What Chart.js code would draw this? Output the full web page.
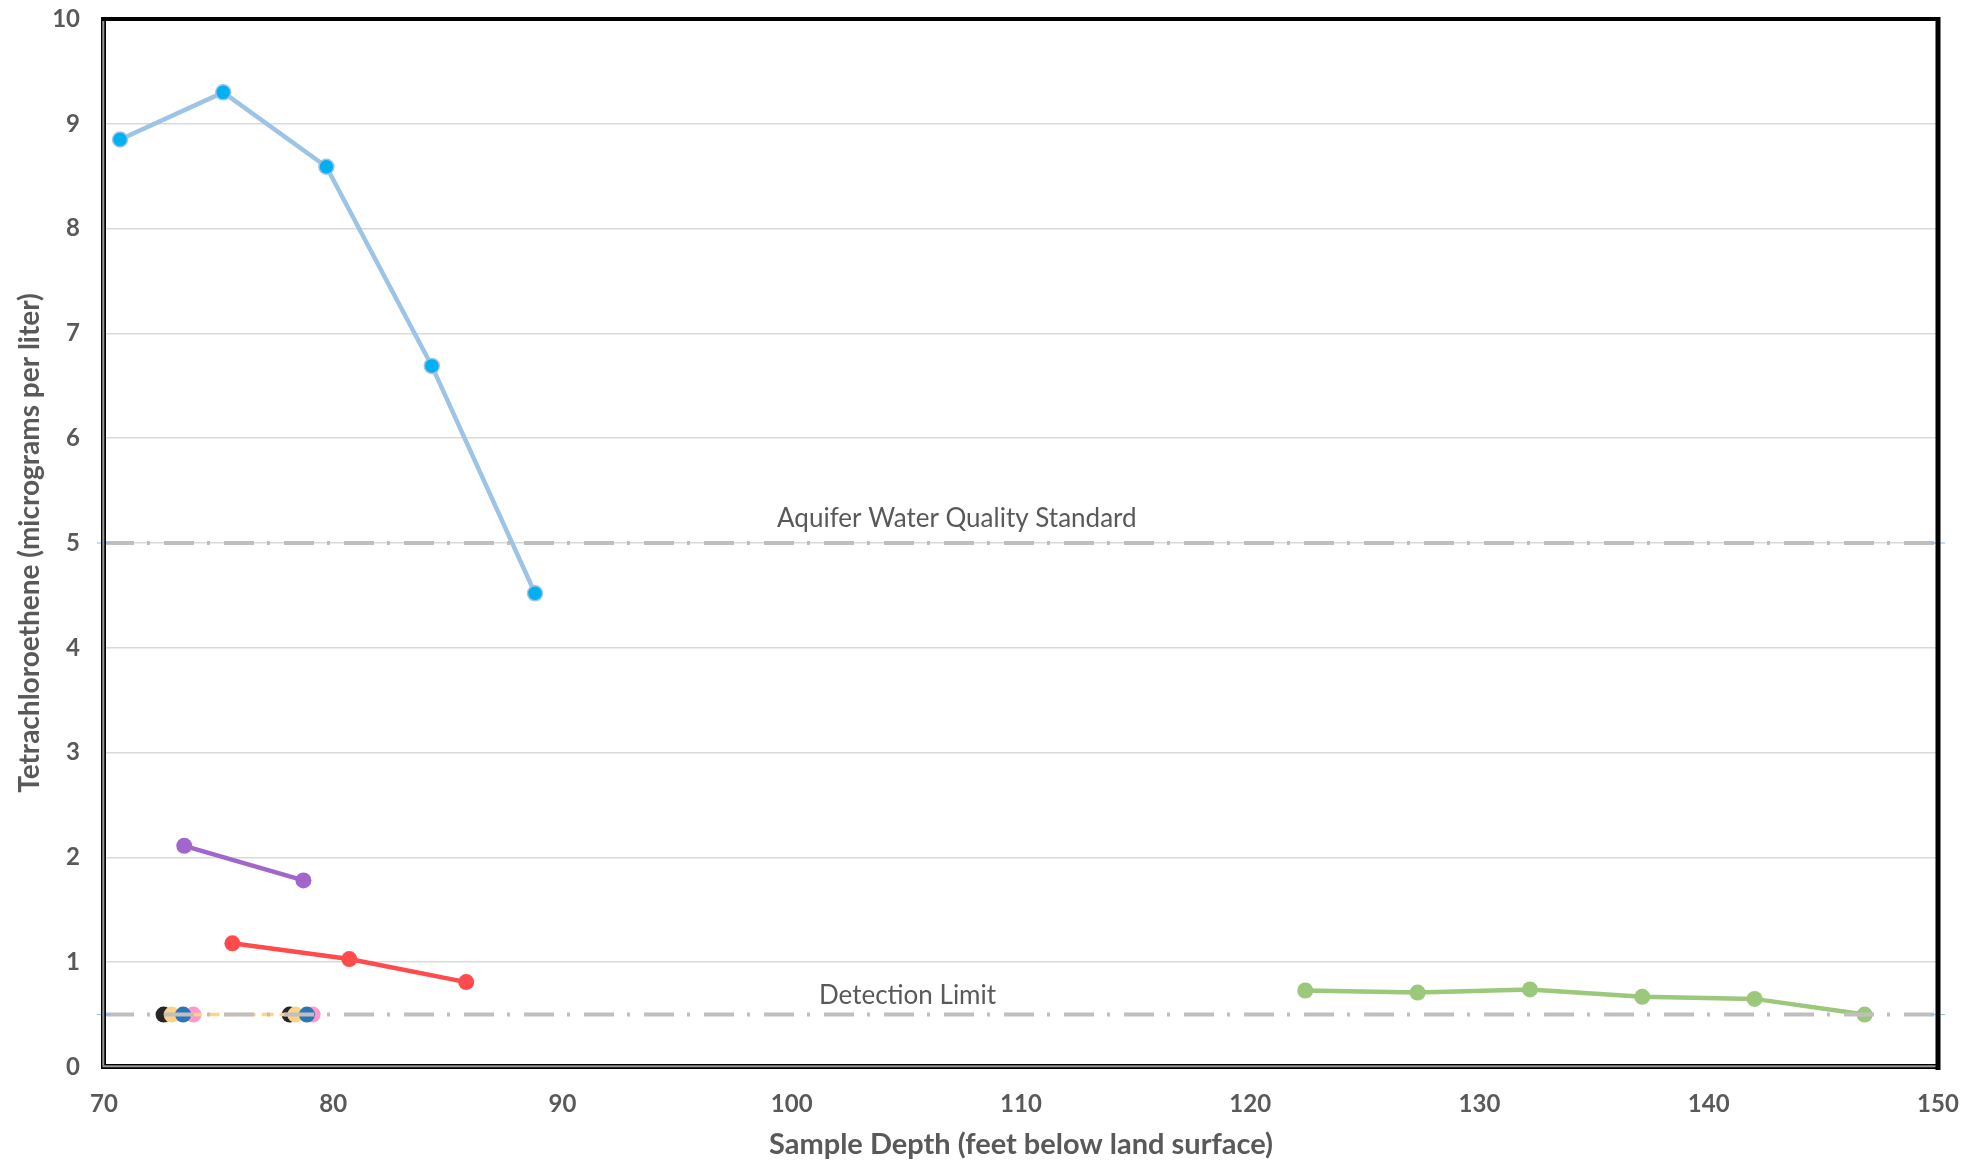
<!DOCTYPE html>
<html>
<head>
<meta charset="utf-8">
<script src="https://cdn.jsdelivr.net/npm/chart.js@4.4.1/dist/chart.umd.min.js"></script>
<style>
  html, body { margin: 0; padding: 0; background: #fff; }
  #wrap { width: 1980px; height: 1168px; }
</style>
</head>
<body>
<div id="wrap"><canvas id="chart" width="1980" height="1168"></canvas></div>
<script>
// tick labels
const xTicks = [70, 80, 90, 100, 110, 120, 130, 140, 150];
const yTicks = [0, 1, 2, 3, 4, 5, 6, 7, 8, 9, 10];

// reference levels (micrograms per liter)
const aquiferStd = 5;
const detectLimit = 0.5;
const refDepths = [70, 150];

// wells: sample depth (ft) and PCE concentration
const depthLtBlue = [70.7, 75.2, 79.7, 84.3, 88.8];
const pceLtBlue = [8.85, 9.30, 8.59, 6.69, 4.52];

const depthPurple = [73.5, 78.7];
const pcePurple = [2.11, 1.78];

const depthRed = [75.6, 80.7, 85.8];
const pceRed = [1.18, 1.03, 0.81];

const depthGreen = [122.4, 127.3, 132.2, 137.1, 142.0, 146.8];
const pceGreen = [0.73, 0.71, 0.74, 0.67, 0.65, 0.50];

const depthBlack = [72.6, 78.1];
const pceBlack = [0.5, 0.5];

const depthYellow = [72.95, 78.35];
const pceYellow = [0.5, 0.5];

const depthBlue = [73.45, 78.85];
const pceBlue = [0.5, 0.5];

const depthPink = [73.9, 79.1];
const pcePink = [0.5, 0.5];

const labelAquifer = 'Aquifer Water Quality Standard';
const labelDetect = 'Detection Limit';

function pts(xs, ys) {
    return xs.map((x, i) => ({ x: x, y: ys[i] }));
}

const textGray = '#595959';

function refLine(level) {
    return {
        data: pts(refDepths, refDepths.map(() => level)),
        showLine: true,
        borderColor: '#BFBFBF',
        borderWidth: 4,
        borderDash: [30, 13, 3, 14],
        borderCapStyle: 'butt',
        pointStyle: 'cross',
        pointRadius: 7,
        pointBorderColor: '#8FB8E6',
        pointBorderWidth: 1,
        clip: false
    };
}

function well(xs, ys, color, opts) {
    return Object.assign({
        data: pts(xs, ys),
        showLine: true,
        borderColor: color,
        borderWidth: 4.5,
        pointRadius: 8,
        pointBackgroundColor: color,
        pointBorderColor: color,
        pointBorderWidth: 0
    }, opts || {});
}

// frame round the plot and labels for the reference lines
const framePlugin = {
    id: 'frame',
    afterDatasetsDraw(chart) {
        const { ctx, chartArea: a, scales: { x, y } } = chart;
        ctx.save();
        ctx.font = '26px Lato';
        ctx.fillStyle = textGray;
        ctx.textAlign = 'center';
        ctx.textBaseline = 'middle';
        ctx.fillText(labelAquifer, x.getPixelForValue(107.2), y.getPixelForValue(aquiferStd) - 24);
        ctx.fillText(labelDetect, x.getPixelForValue(105.05), y.getPixelForValue(detectLimit) - 19);

        // left and bottom: double line
        ctx.fillStyle = '#000';
        ctx.fillRect(a.left - 3, a.top - 2, 5, a.bottom - a.top + 4);
        ctx.fillRect(a.left - 3, a.bottom - 3, a.right - a.left + 4, 5);
        ctx.fillStyle = '#9a9a9a';
        ctx.fillRect(a.left - 1.7, a.top, 2, a.bottom - a.top - 1.5);
        ctx.fillRect(a.left - 1.5, a.bottom - 1.7, a.right - a.left, 2);
        // top and right: solid
        ctx.fillStyle = '#000';
        ctx.fillRect(a.left - 3, a.top - 2, a.right - a.left + 5, 4);
        ctx.fillRect(a.right - 2.5, a.top - 2, 5, a.bottom - a.top + 5);
        ctx.restore();
    }
};

const ctx = document.getElementById('chart').getContext('2d');
const chart = new Chart(ctx, {
    type: 'scatter',
    data: {
        datasets: [
            refLine(aquiferStd),
            refLine(detectLimit),
            well(depthLtBlue, pceLtBlue, '#9DC3E6', {
                pointBackgroundColor: '#00B0F0',
                pointBorderColor: '#9DC3E6',
                pointBorderWidth: 1.5,
                pointRadius: 7.5
            }),
            well(depthPurple, pcePurple, '#A066CC'),
            well(depthRed, pceRed, '#FF4B4B'),
            well(depthGreen, pceGreen, '#9BC87A'),
            well(depthBlue, pceBlue, '#2E75B6', { showLine: false }),
            well(depthYellow, pceYellow, '#FFD284', { borderDash: [12, 6], borderWidth: 3.5 }),
            well(depthBlack, pceBlack, '#262626', { showLine: false }),
            well(depthPink, pcePink, '#FF99CC', { showLine: false })
        ]
    },
    options: {
        responsive: false,
        animation: false,
        devicePixelRatio: 1,
        layout: { padding: { left: 0, top: 19, right: 42, bottom: 0 } },
        plugins: {
            legend: { display: false },
            tooltip: { enabled: false },
            title: { display: false }
        },
        scales: {
            x: {
                type: 'linear',
                min: 70,
                max: 150,
                afterBuildTicks: s => { s.ticks = xTicks.map(v => ({ value: v })); },
                afterFit: s => { s.height = 101; s.paddingLeft = 0; s.paddingRight = 0; },
                grid: { display: false, drawTicks: false },
                border: { display: false },
                ticks: {
                    padding: 23,
                    color: textGray,
                    font: { family: 'Lato', size: 24, weight: 'bold' },
                    maxRotation: 0
                },
                title: {
                    display: true,
                    text: 'Sample Depth (feet below land surface)',
                    color: textGray,
                    font: { family: 'Lato', size: 29, weight: 'bold' },
                    padding: { top: 0, bottom: 6 }
                }
            },
            y: {
                type: 'linear',
                min: 0,
                max: 10,
                afterBuildTicks: s => { s.ticks = yTicks.map(v => ({ value: v })); },
                afterFit: s => { s.width = 104; s.paddingTop = 0; s.paddingBottom = 0; },
                grid: { color: '#D9D9D9', lineWidth: 1.5, drawTicks: false },
                border: { display: false },
                ticks: {
                    padding: 24,
                    color: textGray,
                    font: { family: 'Lato', size: 24, weight: 'bold' }
                },
                title: {
                    display: true,
                    text: 'Tetrachloroethene (micrograms per liter)',
                    color: textGray,
                    font: { family: 'Lato', size: 28, weight: 'bold' },
                    padding: { top: 13, bottom: 0 }
                }
            }
        }
    },
    plugins: [framePlugin]
});
</script>
</body>
</html>
